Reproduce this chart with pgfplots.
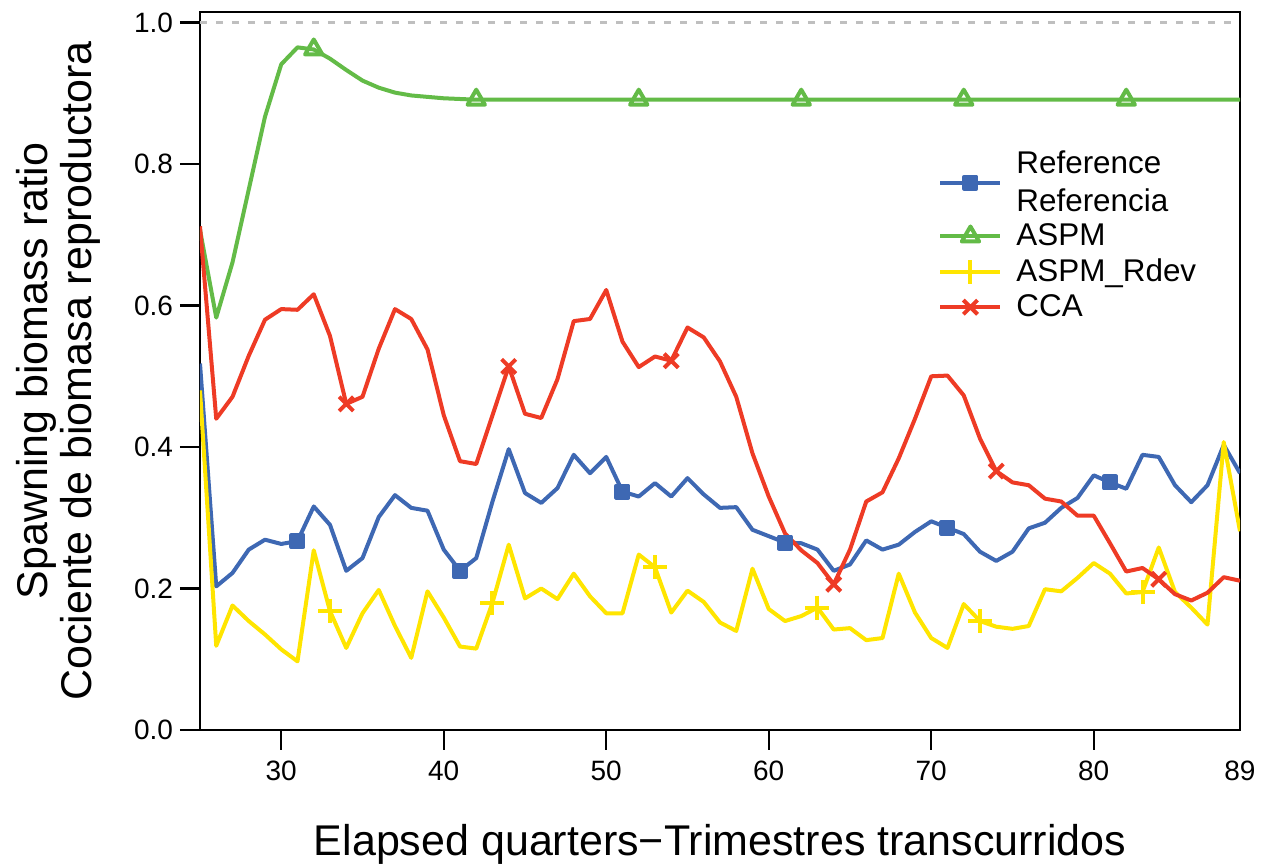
\documentclass[border=0pt]{standalone}
\usepackage{fontspec}
\setmainfont{Liberation Sans}
\usepackage{pgfplots}
\pgfplotsset{compat=1.18}
\usepackage{pgfplotstable}

\definecolor{cRef}{HTML}{3E68B3}
\definecolor{cASPM}{HTML}{63BB47}
\definecolor{cRdev}{HTML}{FFE500}
\definecolor{cCCA}{HTML}{EE3B25}

\pgfplotstableread{
q ref aspm rdev cca
25 0.518 0.707 0.480 0.712
26 0.203 0.583 0.119 0.440
27 0.222 0.661 0.176 0.471
28 0.255 0.764 0.154 0.529
29 0.269 0.867 0.135 0.580
30 0.263 0.941 0.114 0.595
31 0.267 0.965 0.097 0.594
32 0.316 0.962 0.254 0.616
33 0.290 0.949 0.168 0.557
34 0.225 0.933 0.116 0.461
35 0.243 0.918 0.165 0.471
36 0.301 0.908 0.198 0.539
37 0.332 0.901 0.147 0.595
38 0.314 0.897 0.102 0.581
39 0.310 0.895 0.196 0.538
40 0.255 0.893 0.159 0.445
41 0.225 0.892 0.118 0.380
42 0.243 0.891 0.115 0.376
43 0.323 0.891 0.180 0.445
44 0.397 0.891 0.262 0.514
45 0.335 0.891 0.186 0.447
46 0.321 0.891 0.200 0.441
47 0.342 0.891 0.185 0.496
48 0.389 0.891 0.221 0.578
49 0.363 0.891 0.189 0.581
50 0.386 0.891 0.165 0.622
51 0.337 0.891 0.165 0.549
52 0.330 0.891 0.248 0.513
53 0.349 0.891 0.230 0.528
54 0.330 0.891 0.166 0.522
55 0.356 0.891 0.197 0.569
56 0.333 0.891 0.181 0.555
57 0.314 0.891 0.152 0.521
58 0.315 0.891 0.140 0.471
59 0.283 0.891 0.228 0.391
60 0.274 0.891 0.171 0.330
61 0.265 0.891 0.154 0.278
62 0.264 0.891 0.161 0.254
63 0.255 0.891 0.173 0.236
64 0.225 0.891 0.142 0.206
65 0.234 0.891 0.144 0.255
66 0.268 0.891 0.127 0.323
67 0.255 0.891 0.130 0.336
68 0.262 0.891 0.221 0.384
69 0.280 0.891 0.166 0.440
70 0.295 0.891 0.130 0.500
71 0.286 0.891 0.116 0.501
72 0.277 0.891 0.178 0.473
73 0.252 0.891 0.154 0.412
74 0.239 0.891 0.146 0.366
75 0.252 0.891 0.143 0.350
76 0.285 0.891 0.147 0.346
77 0.293 0.891 0.199 0.327
78 0.314 0.891 0.196 0.323
79 0.328 0.891 0.215 0.303
80 0.360 0.891 0.236 0.303
81 0.350 0.891 0.221 0.264
82 0.341 0.891 0.193 0.224
83 0.389 0.891 0.195 0.229
84 0.386 0.891 0.258 0.213
85 0.346 0.891 0.195 0.192
86 0.322 0.891 0.173 0.183
87 0.346 0.891 0.149 0.194
88 0.403 0.891 0.407 0.216
89 0.363 0.891 0.281 0.211
}\data

\begin{document}
\begin{tikzpicture}
\path[use as bounding box] (-100pt,-67.5pt) rectangle (533pt,365pt);
\begin{axis}[
  scale only axis,
  width=520pt, height=359pt,
  xmin=25, xmax=89, ymin=0, ymax=1.015,
  axis line style={line width=1.2pt, black},
  tick style={line width=1.2pt, black},
  tick align=outside,
  major tick length=10pt,
  xtick={30,40,50,60,70,80},
  extra x ticks={89},
  extra x tick style={tick style={draw=none}},
  ytick={0,0.2,0.4,0.6,0.8,1.0},
  xtick pos=bottom, ytick pos=left,
  /pgf/number format/assume math mode=true,
  yticklabel style={/pgf/number format/fixed, /pgf/number format/fixed zerofill, /pgf/number format/precision=1},
  ticklabel style={font=\fontsize{14}{16}\selectfont},
  xticklabel style={yshift=-2pt},
  xlabel={Elapsed quarters−Trimestres transcurridos},
  ylabel={Spawning biomass ratio\\Cociente de biomasa reproductora},
  label style={font=\fontsize{21.5}{22}\selectfont, align=center},
  xlabel style={yshift=5pt},
  ylabel style={yshift=10pt},
  legend style={at={(axis cs:70.05,0.83)}, anchor=north west, draw=none, fill=none,
    font=\fontsize{15.7}{19}\selectfont, row sep=1pt,
    nodes={inner xsep=7pt}},
  legend cell align=left,
  legend image code/.code={\draw[mark repeat=2,mark phase=2,#1] plot coordinates {(0pt,0pt) (15pt,0pt) (30pt,0pt)};},
  legend image post style={line width=2pt},
  every axis plot/.append style={line width=2pt, line join=round},
  mark options={solid, line width=2pt},
]
\addplot[gray!50, dash pattern=on 3.5pt off 4.5pt, line width=1.1pt, forget plot] coordinates {(25,1) (89,1)};
\addplot[cRef, mark=square*, mark size=3pt, mark repeat=10, mark phase=7] table[x=q,y=ref] {\data};
\addlegendentry{\raisebox{0pt}[\height][\dimexpr\depth+3.5pt\relax]{\shortstack[l]{Reference\\[4pt]Referencia}}}
\addplot[cASPM, mark=triangle, mark size=5pt, mark repeat=10, mark phase=8] table[x=q,y=aspm] {\data};
\addlegendentry{ASPM}
\addplot[cRdev, mark=+, mark size=6pt, mark repeat=10, mark phase=9] table[x=q,y=rdev] {\data};
\addlegendentry{ASPM\_Rdev}
\addplot[cCCA, mark=x, mark size=5pt, mark repeat=10, mark phase=10] table[x=q,y=cca] {\data};
\addlegendentry{CCA}
\end{axis}
\end{tikzpicture}
\end{document}
